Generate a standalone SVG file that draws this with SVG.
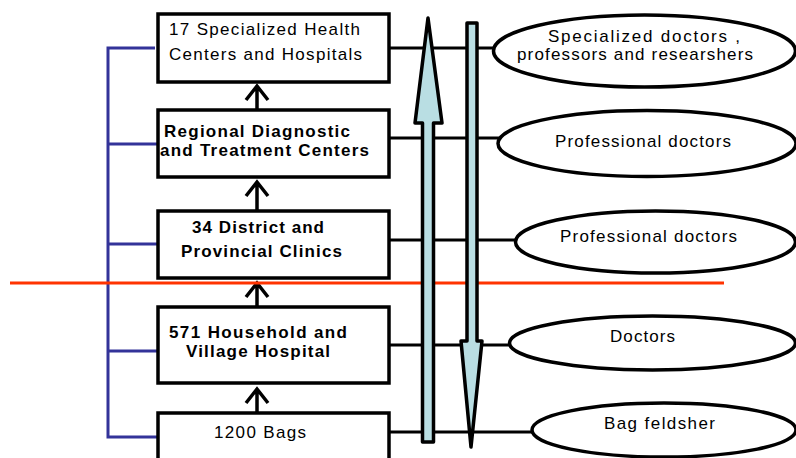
<svg xmlns="http://www.w3.org/2000/svg" width="796" height="458" viewBox="0 0 796 458">
  <style>
    .box { fill: #ffffff; stroke: #000000; stroke-width: 3.5; }
    .oval { fill: #ffffff; stroke: #000000; stroke-width: 3.5; }
    .link { fill: none; stroke: #000000; stroke-width: 3; }
    .up { fill: none; stroke: #000000; stroke-width: 3.5; stroke-linejoin: miter; }
    .brace { fill: none; stroke: #333399; stroke-width: 3; }
    .flow { fill: #B9DEE3; stroke: #000000; stroke-width: 3.5; stroke-linejoin: round; }
    .t { font-family: "Liberation Sans", Arial, sans-serif; font-size: 17px; fill: #000000; text-anchor: middle; }
    .b { font-weight: bold; }
  </style>

  <rect width="796" height="458" fill="#ffffff"/>

  <!-- connectors: level links, hierarchy bracket, upward arrows -->
  <g id="connectors">
    <path class="link" d="M389,48 H494 M389,138 H499 M389,240 H516 M389,345 H510 M389,432 H533"/>
    <path class="brace" d="M155,48 H108 V437 H157 M108,144 H157 M108,244 H157 M108,351 H157"/>
    <path class="up" d="M257,110 V88 M246,100 L257,86 L268,100"/>
    <path class="up" d="M257,211 V184 M246,196 L257,182 L268,196"/>
    <path class="up" d="M257,307 V285 M246,297 L257,283 L268,297"/>
    <path class="up" d="M257,413 V391 M246,403 L257,389 L268,403"/>
  </g>

  <!-- dividing line -->
  <line x1="10" y1="283" x2="724" y2="283" stroke="#FF3300" stroke-width="3"/>

  <!-- facility levels -->
  <g id="level1">
    <rect class="box" x="158" y="14" width="231" height="68"/>
    <text class="t" x="264.5" y="35" textLength="191" lengthAdjust="spacing">17 Specialized Health</text>
    <text class="t" x="265.5" y="60" textLength="193" lengthAdjust="spacing">Centers and Hospitals</text>
  </g>
  <g id="level2">
    <rect class="box" x="158" y="110" width="231" height="67"/>
    <text class="t b" x="257" y="137" textLength="186" lengthAdjust="spacing">Regional Diagnostic</text>
    <text class="t b" x="264.5" y="156" textLength="209" lengthAdjust="spacing">and Treatment Centers</text>
  </g>
  <g id="level3">
    <rect class="box" x="158" y="211" width="231" height="67"/>
    <text class="t b" x="258" y="233" textLength="132" lengthAdjust="spacing">34 District and</text>
    <text class="t b" x="261.5" y="257" textLength="161" lengthAdjust="spacing">Provincial Clinics</text>
  </g>
  <g id="level4">
    <rect class="box" x="158" y="307" width="231" height="76"/>
    <text class="t b" x="258" y="338" textLength="178" lengthAdjust="spacing">571 Household and</text>
    <text class="t b" x="258" y="357" textLength="144" lengthAdjust="spacing">Village Hospital</text>
  </g>
  <g id="level5">
    <rect class="box" x="158" y="413" width="231" height="60"/>
    <text class="t" x="260" y="438" textLength="92" lengthAdjust="spacing">1200 Bags</text>
  </g>

  <!-- staff ovals -->
  <g id="staff1">
    <ellipse class="oval" cx="644.5" cy="51" rx="151" ry="36"/>
    <text class="t" x="644" y="42" textLength="192" lengthAdjust="spacing">Specialized doctors ,</text>
    <text class="t" x="635" y="60" textLength="236" lengthAdjust="spacing">professors and researshers</text>
  </g>
  <g id="staff2">
    <ellipse class="oval" cx="647" cy="143.5" rx="149" ry="33"/>
    <text class="t" x="643" y="147" textLength="176" lengthAdjust="spacing">Professional doctors</text>
  </g>
  <g id="staff3">
    <ellipse class="oval" cx="655.5" cy="242" rx="140" ry="31"/>
    <text class="t" x="648.5" y="242" textLength="177" lengthAdjust="spacing">Professional doctors</text>
  </g>
  <g id="staff4">
    <ellipse class="oval" cx="652.5" cy="343" rx="143" ry="27"/>
    <text class="t" x="642.5" y="342" textLength="65" lengthAdjust="spacing">Doctors</text>
  </g>
  <g id="staff5">
    <ellipse class="oval" cx="664" cy="430" rx="132" ry="27"/>
    <text class="t" x="659.5" y="429" textLength="111" lengthAdjust="spacing">Bag feldsher</text>
  </g>

  <!-- broad up / down flow arrows -->
  <g id="flow-up">
    <path class="flow" d="M428,18 L442,123 L433.5,123 L433.5,442 L422.5,442 L422.5,123 L415,123 Z"/>
  </g>
  <g id="flow-down">
    <path class="flow" d="M467,23 L477,23 L477,341 L482,341 L471,447 L461,341 L467,341 Z"/>
  </g>
</svg>
